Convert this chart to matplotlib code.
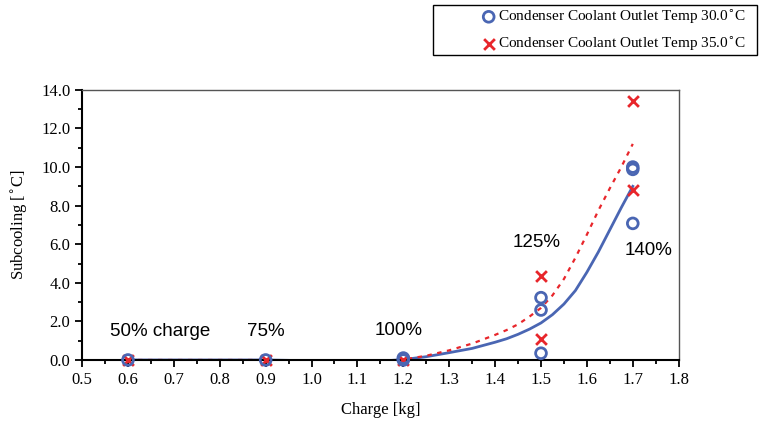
import matplotlib
matplotlib.use('Agg')
import matplotlib.pyplot as plt
from matplotlib.patches import Rectangle
from matplotlib.ticker import MultipleLocator

# measured points
x_30 = [0.6, 0.9, 1.2, 1.2, 1.5, 1.5, 1.5, 1.7, 1.7, 1.7]
y_30 = [0.0, 0.0, 0.0, 0.1, 3.23, 2.59, 0.35, 10.0, 9.88, 7.08]
x_35 = [0.6, 0.9, 1.2, 1.5, 1.5, 1.7, 1.7]
y_35 = [0.0, 0.0, 0.0, 4.35, 1.1, 13.44, 8.81]

# fitted trend lines
fit_x = [0.6, 0.65, 0.7, 0.75, 0.8, 0.85, 0.9, 0.95, 1.0, 1.05, 1.1, 1.15,
         1.2, 1.25, 1.3, 1.35, 1.4, 1.425, 1.45, 1.475, 1.5, 1.525, 1.55,
         1.575, 1.6, 1.625, 1.65, 1.675, 1.7]
fit_30 = [0, 0, 0, 0, 0, 0, 0, -0.02, -0.05, -0.07, -0.08, -0.06,
          0.02, 0.17, 0.38, 0.6, 0.92, 1.1, 1.33, 1.6, 1.92, 2.35, 2.9,
          3.6, 4.55, 5.6, 6.75, 7.9, 9.0]
fit_35 = [0, 0, 0, 0, 0, 0, 0, -0.03, -0.08, -0.12, -0.14, -0.1,
          0.02, 0.22, 0.5, 0.85, 1.3, 1.55, 1.85, 2.25, 2.7, 3.35, 4.2,
          5.3, 6.5, 7.75, 8.9, 10.0, 11.2]

labels = ['50% charge', '75%', '100%', '125%', '140%']
label_x = [0.67, 0.9, 1.19, 1.49, 1.735]
label_y = [1.5, 1.5, 1.55, 6.1, 5.7]

BLUE = '#4a66b3'
RED = '#e8262b'
serif = ['Liberation Serif', 'DejaVu Serif']

fig = plt.figure(figsize=(7.6, 4.24), dpi=100)
ax = fig.add_axes([0.108, 0.151, 0.785, 0.637])

ax.plot(fit_x, fit_30, color=BLUE, lw=2.0, zorder=2)
ax.plot(fit_x, fit_35, color=RED, lw=1.6, ls=(0, (2, 2.5)), zorder=2)

h1 = ax.scatter(x_30, y_30, s=60, facecolors='none', edgecolors=BLUE,
                linewidths=2.0, zorder=4, clip_on=False)
h2 = ax.scatter(x_35, y_35, s=60, marker='x', color=RED,
                linewidths=2.0, zorder=3, clip_on=False)

for t, tx, ty in zip(labels, label_x, label_y):
    ax.text(tx, ty, t, ha='center', va='center', fontsize=13.5,
            family=['Liberation Sans', 'DejaVu Sans'])

ax.set_xlim(0.5, 1.8)
ax.set_ylim(0, 14)
ax.xaxis.set_major_locator(MultipleLocator(0.1))
ax.xaxis.set_minor_locator(MultipleLocator(0.05))
ax.yaxis.set_major_locator(MultipleLocator(2))
ax.yaxis.set_minor_locator(MultipleLocator(1))
ax.set_xticklabels([f'{v:.1f}' for v in ax.get_xticks()])
ax.set_yticklabels([f'{v:.1f}' for v in ax.get_yticks()])
ax.tick_params(which='both', direction='out', width=1.3, labelsize=12)
ax.tick_params(which='major', length=5)
ax.tick_params(which='minor', length=3)
for lab in ax.get_xticklabels() + ax.get_yticklabels():
    lab.set_family(serif)

for s in ['left', 'bottom']:
    ax.spines[s].set_linewidth(1.5)
for s in ['top', 'right']:
    ax.spines[s].set_linewidth(1.0)
    ax.spines[s].set_color('#555555')

ax.set_xlabel('Charge [kg]', family=serif, fontsize=12, labelpad=10)
ax.set_ylabel('Subcooling [$^{\\circ}$C]', family=serif, fontsize=12, labelpad=8)

leg = fig.legend([h1, h2],
                 ['Condenser Coolant Outlet Temp 30.0$^{\\circ}$C',
                  'Condenser Coolant Outlet Temp 35.0$^{\\circ}$C'],
                 loc='center', bbox_to_anchor=(0.806, 0.929),
                 prop={'family': serif, 'size': 11}, frameon=False,
                 handletextpad=0.0, handlelength=1.2,
                 borderpad=0.0, labelspacing=0.55)
fig.patches.append(Rectangle((433 / 760, 1 - 55 / 424), 324 / 760, 50 / 424,
                             transform=fig.transFigure, fill=False,
                             edgecolor='black', linewidth=1.0))

fig.savefig('out.png', dpi=100)
